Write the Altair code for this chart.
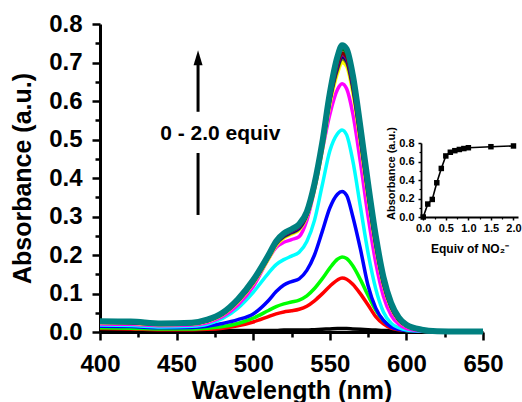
import altair as alt
import pandas as pd

FONT = "Liberation Sans"

# ---------------- titration spectra ----------------
WAVELENGTH = [400, 420, 440, 460, 470, 480, 490, 500, 510, 515, 520, 525, 530, 535,
              540, 545, 550, 555, 558, 561, 565, 570, 575, 580, 585, 590, 595, 600,
              610, 620, 635, 650]

EQUIV_LABELS = ["0", "0.1", "0.2", "0.3", "0.4", "0.5", "0.6", "0.7", "0.8",
                "0.9", "1.0", "1.5", "2.0"]

LINE_COLORS = ["#000000", "#FF0000", "#00FF00", "#0000FF", "#00FFFF", "#FF00FF",
               "#FFFF00", "#808000", "#000080", "#800080", "#800000", "#008000",
               "#008080"]

A_00 = [0.005, 0.005, 0.004, 0.004, 0.004, 0.004, 0.004, 0.004, 0.004, 0.004, 0.005, 0.005,
        0.005, 0.005, 0.006, 0.007, 0.008, 0.009, 0.009, 0.009, 0.008, 0.007, 0.006, 0.005,
        0.004, 0.004, 0.003, 0.003, 0.003, 0.003, 0.003, 0.003]
A_01 = [0.009, 0.008, 0.006, 0.006, 0.007, 0.010, 0.016, 0.026, 0.040, 0.047, 0.052, 0.055,
        0.059, 0.067, 0.081, 0.099, 0.119, 0.135, 0.140, 0.137, 0.124, 0.099, 0.070, 0.040,
        0.021, 0.010, 0.006, 0.004, 0.002, 0.001, 0.001, 0.001]
A_02 = [0.011, 0.010, 0.008, 0.008, 0.010, 0.014, 0.022, 0.036, 0.056, 0.066, 0.073, 0.078,
        0.083, 0.094, 0.113, 0.138, 0.166, 0.189, 0.195, 0.191, 0.172, 0.136, 0.095, 0.057,
        0.030, 0.015, 0.008, 0.004, 0.002, 0.001, 0.001, 0.001]
A_03 = [0.015, 0.014, 0.011, 0.012, 0.015, 0.022, 0.032, 0.047, 0.082, 0.105, 0.122, 0.131,
        0.138, 0.160, 0.200, 0.260, 0.322, 0.358, 0.365, 0.355, 0.300, 0.215, 0.120, 0.062,
        0.030, 0.013, 0.007, 0.004, 0.002, 0.001, 0.001, 0.001]
A_04 = [0.018, 0.017, 0.013, 0.015, 0.020, 0.035, 0.062, 0.103, 0.153, 0.175, 0.188, 0.197,
        0.207, 0.235, 0.290, 0.380, 0.470, 0.515, 0.525, 0.512, 0.445, 0.325, 0.205, 0.112,
        0.052, 0.023, 0.011, 0.005, 0.002, 0.001, 0.001, 0.001]
A_05 = [0.021, 0.020, 0.016, 0.018, 0.024, 0.040, 0.070, 0.118, 0.190, 0.220, 0.233, 0.240,
        0.248, 0.290, 0.370, 0.470, 0.565, 0.630, 0.645, 0.632, 0.568, 0.440, 0.300, 0.180,
        0.093, 0.044, 0.020, 0.009, 0.003, 0.002, 0.001, 0.001]
A_06 = [0.024, 0.023, 0.019, 0.021, 0.028, 0.045, 0.078, 0.126, 0.190, 0.225, 0.244, 0.254,
        0.265, 0.300, 0.370, 0.470, 0.590, 0.672, 0.700, 0.690, 0.622, 0.490, 0.348, 0.220,
        0.122, 0.062, 0.030, 0.015, 0.005, 0.002, 0.001, 0.001]
A_07 = [0.025, 0.024, 0.020, 0.022, 0.029, 0.046, 0.080, 0.128, 0.193, 0.228, 0.247, 0.257,
        0.268, 0.303, 0.374, 0.476, 0.598, 0.682, 0.710, 0.700, 0.632, 0.499, 0.355, 0.225,
        0.125, 0.064, 0.031, 0.016, 0.005, 0.002, 0.001, 0.001]
A_08 = [0.025, 0.024, 0.020, 0.022, 0.029, 0.047, 0.081, 0.130, 0.195, 0.230, 0.249, 0.259,
        0.270, 0.305, 0.377, 0.480, 0.602, 0.687, 0.715, 0.705, 0.638, 0.504, 0.360, 0.229,
        0.128, 0.066, 0.032, 0.016, 0.005, 0.002, 0.001, 0.001]
A_09 = [0.026, 0.025, 0.021, 0.023, 0.030, 0.048, 0.082, 0.131, 0.196, 0.232, 0.251, 0.261,
        0.273, 0.307, 0.379, 0.483, 0.606, 0.692, 0.720, 0.710, 0.644, 0.510, 0.365, 0.233,
        0.131, 0.068, 0.033, 0.017, 0.005, 0.002, 0.001, 0.001]
A_10 = [0.026, 0.025, 0.021, 0.023, 0.031, 0.048, 0.083, 0.132, 0.197, 0.233, 0.252, 0.263,
        0.275, 0.309, 0.381, 0.485, 0.610, 0.697, 0.725, 0.715, 0.650, 0.515, 0.370, 0.237,
        0.134, 0.070, 0.034, 0.017, 0.005, 0.002, 0.001, 0.001]
A_15 = [0.027, 0.026, 0.022, 0.024, 0.031, 0.049, 0.084, 0.134, 0.199, 0.235, 0.254, 0.265,
        0.278, 0.311, 0.383, 0.488, 0.615, 0.706, 0.735, 0.725, 0.659, 0.524, 0.377, 0.243,
        0.138, 0.072, 0.036, 0.018, 0.006, 0.002, 0.001, 0.001]
A_20 = [0.028, 0.027, 0.022, 0.024, 0.032, 0.050, 0.085, 0.135, 0.200, 0.236, 0.256, 0.267,
        0.280, 0.312, 0.385, 0.490, 0.620, 0.715, 0.745, 0.735, 0.668, 0.532, 0.385, 0.250,
        0.143, 0.076, 0.038, 0.019, 0.006, 0.002, 0.001, 0.001]

SPECTRA = [A_00, A_01, A_02, A_03, A_04, A_05, A_06, A_07, A_08, A_09, A_10, A_15, A_20]

X_TICKS = [400, 450, 500, 550, 600, 650]
X_MINOR = [425, 475, 525, 575, 625]
Y_TICKS = [0.0, 0.1, 0.2, 0.3, 0.4, 0.5, 0.6, 0.7, 0.8]
Y_MINOR = [0.05, 0.15, 0.25, 0.35, 0.45, 0.55, 0.65, 0.75]

# ---------------- inset: peak absorbance vs. equivalents ----------------
INSET_EQUIV = [0.0, 0.1, 0.2, 0.3, 0.4, 0.5, 0.6, 0.7, 0.8, 0.9, 1.0, 1.5, 2.0]
INSET_ABS = [0.0, 0.14, 0.19, 0.37, 0.525, 0.66, 0.70, 0.717, 0.73, 0.74, 0.749, 0.76, 0.768]
INSET_X_TICKS = [0.0, 0.5, 1.0, 1.5, 2.0]
INSET_X_MINOR = [0.25, 0.75, 1.25, 1.75]
INSET_Y_TICKS = [0.0, 0.2, 0.4, 0.6, 0.8]
INSET_Y_MINOR = [0.1, 0.3, 0.5, 0.7]

# ---------------- annotation (data units) ----------------
ARROW_WL = 464
ARROW_TIP = 0.732
ARROW_UPPER_END = 0.572
ARROW_LOWER_START = 0.465
ARROW_LOWER_END = 0.304
NOTE_WL = 478.5
NOTE_ABS = 0.513
NOTE_TEXT = "0 - 2.0 equiv"

W, H = 383, 308

rows = []
for k, (label, values) in enumerate(zip(EQUIV_LABELS, SPECTRA)):
    for wl, a in zip(WAVELENGTH, values):
        rows.append({"series": label, "k": k, "wl": wl, "absorbance": a})
spec_df = pd.DataFrame(rows)
thin_df = spec_df[spec_df["series"] != EQUIV_LABELS[-1]]
thick_df = spec_df[spec_df["series"] == EQUIV_LABELS[-1]]

x_scale = alt.Scale(domain=[400, 650], nice=False, zero=False)
y_scale = alt.Scale(domain=[0, 0.8], nice=False)
color_scale = alt.Scale(domain=EQUIV_LABELS, range=LINE_COLORS)

common_axis = dict(
    labelFont=FONT, labelFontWeight="bold", labelColor="black", labelFlush=False,
    labelOverlap=False, tickColor="black", domainColor="black", grid=False,
    titleFont=FONT, titleFontWeight="bold", titleColor="black",
)

x_major = alt.Axis(values=X_TICKS, format="d", orient="bottom", title="Wavelength (nm)",
                   labelFontSize=24, labelPadding=12, tickSize=8, tickWidth=2.5,
                   domainWidth=3, titleFontSize=25, titleY=66, titleBaseline="alphabetic",
                   **common_axis)
y_major = alt.Axis(values=Y_TICKS, format=".1f", orient="left", title="Absorbance (a.u.)",
                   labelFontSize=24, labelPadding=10, tickSize=8, tickWidth=2.5,
                   domainWidth=3, titleFontSize=25, titleX=-70, titleY=H / 2,
                   titleBaseline="alphabetic", **common_axis)
x_minor = alt.Axis(values=X_MINOR, orient="bottom", labels=False, domain=False, title=None,
                   tickSize=5, tickWidth=2.5, tickColor="black", grid=False)
y_minor = alt.Axis(values=Y_MINOR, orient="left", labels=False, domain=False, title=None,
                   tickSize=5, tickWidth=2.5, tickColor="black", grid=False)

thin_lines = alt.Chart(thin_df).mark_line(strokeWidth=3.5, interpolate="monotone").encode(
    x=alt.X("wl:Q", scale=x_scale, axis=x_major),
    y=alt.Y("absorbance:Q", scale=y_scale, axis=y_major),
    color=alt.Color("series:N", scale=color_scale, legend=None),
    detail="k:O",
)
thick_line = alt.Chart(thick_df).mark_line(strokeWidth=6, interpolate="monotone").encode(
    x=alt.X("wl:Q", scale=x_scale, axis=None),
    y=alt.Y("absorbance:Q", scale=y_scale, axis=None),
    color=alt.Color("series:N", scale=color_scale, legend=None),
)
minor_ticks = alt.Chart(thick_df).mark_line(strokeOpacity=0).encode(
    x=alt.X("wl:Q", scale=x_scale, axis=x_minor),
    y=alt.Y("absorbance:Q", scale=y_scale, axis=y_minor),
)
spectra = alt.layer(thin_lines, thick_line, minor_ticks).resolve_axis(
    x="independent", y="independent")

# arrow with the equivalents note
arrow_df = pd.DataFrame({"x": [ARROW_WL, ARROW_WL],
                         "y": [ARROW_TIP - 0.035, ARROW_LOWER_START],
                         "y2": [ARROW_UPPER_END, ARROW_LOWER_END]})
arrow_shafts = alt.Chart(arrow_df).mark_rule(strokeWidth=3, color="black").encode(
    x=alt.X("x:Q", scale=x_scale, axis=None),
    y=alt.Y("y:Q", scale=y_scale, axis=None),
    y2="y2:Q",
)
head_df = pd.DataFrame({"x": [ARROW_WL], "y": [ARROW_TIP]})
arrow_head = alt.Chart(head_df).mark_point(
    shape="M0,-1L0.6,1L-0.6,1Z", size=225, filled=True, color="black", opacity=1,
    yOffset=7.5, strokeWidth=0,
).encode(
    x=alt.X("x:Q", scale=x_scale, axis=None),
    y=alt.Y("y:Q", scale=y_scale, axis=None),
)
note_df = pd.DataFrame({"x": [NOTE_WL], "y": [NOTE_ABS], "t": [NOTE_TEXT]})
note = alt.Chart(note_df).mark_text(
    font=FONT, fontSize=21, fontWeight="bold", color="black", align="center",
    baseline="middle",
).encode(
    x=alt.X("x:Q", scale=x_scale, axis=None),
    y=alt.Y("y:Q", scale=y_scale, axis=None),
    text="t:N",
)

# inset titration curve, drawn inside the upper right of the plot area
inset_df = pd.DataFrame({"equiv": INSET_EQUIV, "a": INSET_ABS})
ix_scale = alt.Scale(domain=[-0.05, 2.1], range=[321, 418], nice=False, zero=False)
iy_scale = alt.Scale(domain=[0, 0.8], range=[193, 119], nice=False, zero=False)

ix_axis = alt.Axis(values=INSET_X_TICKS, format=".1f", orient="bottom", offset=193 - H,
                   title="Equiv of NO\u2082\u207b", labelFontSize=11, labelPadding=2,
                   tickSize=3, tickWidth=1.5, domainWidth=1.8, titleFontSize=12,
                   titleY=35, titleBaseline="alphabetic", **common_axis)
iy_axis = alt.Axis(values=INSET_Y_TICKS, format=".1f", orient="left", offset=-321,
                   title="Absorbance (a.u.)", labelFontSize=11, labelPadding=4,
                   tickSize=3, tickWidth=1.5, domainWidth=1.8, titleFontSize=11,
                   titleX=-27, titleY=149, titleBaseline="alphabetic", **common_axis)
ix_minor = alt.Axis(values=INSET_X_MINOR, orient="bottom", offset=193 - H, labels=False,
                    domain=False, title=None, tickSize=2, tickWidth=1.2,
                    tickColor="black", grid=False)
iy_minor = alt.Axis(values=INSET_Y_MINOR, orient="left", offset=-321, labels=False,
                    domain=False, title=None, tickSize=2, tickWidth=1.2,
                    tickColor="black", grid=False)

inset_line = alt.Chart(inset_df).mark_line(color="black", strokeWidth=1.6).encode(
    x=alt.X("equiv:Q", scale=ix_scale, axis=ix_axis),
    y=alt.Y("a:Q", scale=iy_scale, axis=iy_axis),
)
inset_points = alt.Chart(inset_df).mark_point(
    shape="square", filled=True, size=30, color="black", opacity=1
).encode(
    x=alt.X("equiv:Q", scale=ix_scale, axis=None),
    y=alt.Y("a:Q", scale=iy_scale, axis=None),
)
inset_minor = alt.Chart(inset_df).mark_line(strokeOpacity=0).encode(
    x=alt.X("equiv:Q", scale=ix_scale, axis=ix_minor),
    y=alt.Y("a:Q", scale=iy_scale, axis=iy_minor),
)
inset = alt.layer(inset_line, inset_points, inset_minor).resolve_axis(
    x="independent", y="independent")

chart = alt.layer(
    spectra, arrow_shafts, arrow_head, note, inset
).resolve_scale(
    x="independent", y="independent"
).properties(
    width=W, height=H,
    autosize=alt.AutoSizeParams(type="none"),
    padding={"left": 100, "top": 24, "right": 39, "bottom": 70},
    background="white",
).configure_view(stroke=None)

chart.save("out.html", embed_options={"renderer": "svg", "actions": False})
